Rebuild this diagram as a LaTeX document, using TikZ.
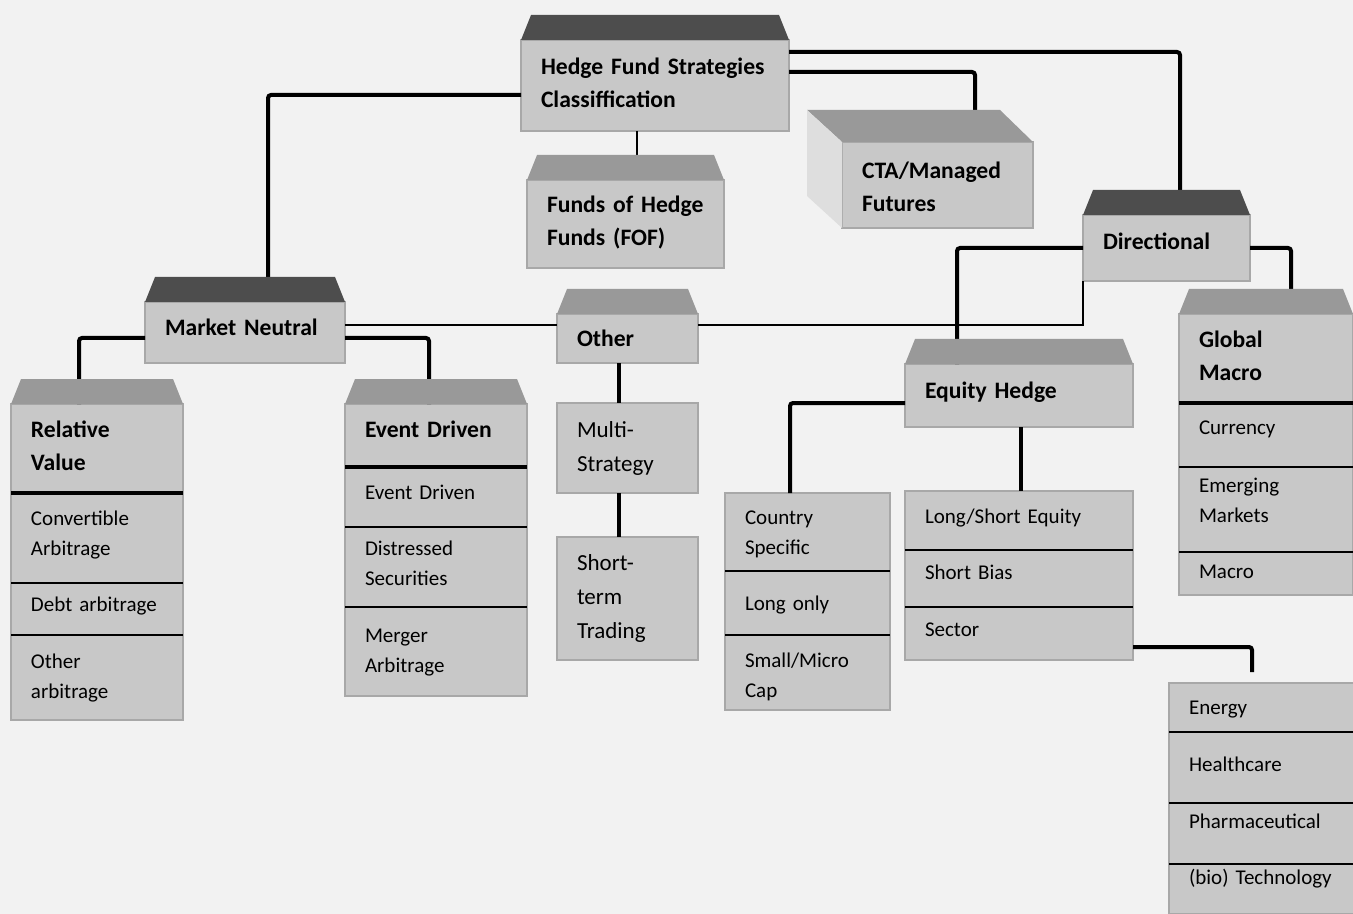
\documentclass[tikz,border=0pt]{standalone}
\usepackage{fontspec}
\setmainfont{Carlito}
\usetikzlibrary{positioning}
\definecolor{paper}{HTML}{F2F2F2}
\definecolor{cellgray}{HTML}{C8C8C8}
\definecolor{celledge}{HTML}{A8A8A8}
\definecolor{capdark}{HTML}{4D4D4D}
\definecolor{capmid}{HTML}{999999}
\definecolor{ctaside}{HTML}{DEDEDE}

\begin{document}
\begin{tikzpicture}[x=0.5pt, y=-0.5pt, node distance=0pt,
  cell/.style={rectangle, fill=cellgray, draw=celledge, line width=0.6pt, outer sep=0pt,
    anchor=north west, inner xsep=10pt, inner ysep=0pt, align=left},
  hdrcell/.style={cell, font=\bfseries\fontsize{11.8}{16.5}\selectfont},
  entrycell/.style={cell, font=\fontsize{10.5}{15}\selectfont},
  bigcell/.style={cell, font=\fontsize{11.5}{17}\selectfont},
  lift/.style={text depth=#1},
  colhfs/.style={minimum width=134pt, text width=114pt},
  colfof/.style={minimum width=98.5pt, text width=78.5pt},
  colcta/.style={minimum width=95.5pt, text width=75.5pt},
  coldir/.style={minimum width=83.5pt, text width=63.5pt},
  colgm/.style={minimum width=87pt, text width=67pt},
  coleh/.style={minimum width=114pt, text width=94pt},
  colcs/.style={minimum width=82.5pt, text width=62.5pt},
  colsec/.style={minimum width=100pt, text width=80pt},
  colmn/.style={minimum width=100pt, text width=80pt},
  colrv/.style={minimum width=86pt, text width=66pt},
  coled/.style={minimum width=91pt, text width=71pt},
  coloth/.style={minimum width=70.5pt, text width=50.5pt},
  wire/.style={line width=2pt, rounded corners=1.5pt},
  thinwire/.style={line width=0.75pt},
  heavysep/.style={line width=2pt},
  lightsep/.style={line width=1pt}]

  % page
  \useasboundingbox (0,0) rectangle (1353,914);
  \fill[paper] (0,0) rectangle (1353,914);

  % top level
  \node[hdrcell, colhfs, minimum height=45.5pt, lift=19.5pt] (hfs) at (521,40) {Hedge Fund Strategies\\Classiffication};
  \node[hdrcell, colfof, minimum height=44pt, lift=20pt] (fof) at (527,180) {Funds~of~Hedge\\Funds (FOF)};
  \node[hdrcell, colcta, minimum height=43pt, lift=14.5pt] (cta) at (842,142) {CTA/Managed\\Futures};
  \node[hdrcell, coldir, minimum height=33pt, lift=7pt] (dir) at (1083,215) {Directional};
  \node[hdrcell, colmn, minimum height=30.5pt, lift=5pt] (mn) at (145,302) {Market~Neutral};
  \node[hdrcell, coloth, minimum height=24.5pt, lift=-1pt] (oth) at (557,314) {Other};

  % market neutral
  \node[hdrcell, colrv, minimum height=44.5pt, lift=19.5pt] (rvh) at (11,404) {Relative\\Value};
  \node[entrycell, colrv, minimum height=45pt, lift=20.2pt, below=of rvh] (rv1) {Convertible\\Arbitrage};
  \node[entrycell, colrv, minimum height=26pt, lift=5.2pt, below=of rv1] (rv2) {Debt arbitrage};
  \node[entrycell, colrv, minimum height=42.5pt, lift=16.2pt, below=of rv2] (rv3) {Other\\arbitrage};

  \node[hdrcell, coled, minimum height=31.5pt, lift=6pt] (edh) at (345,404) {Event Driven};
  \node[entrycell, coled, minimum height=30pt, lift=5pt, below=of edh] (ed1) {Event Driven};
  \node[entrycell, coled, minimum height=40pt, lift=19pt, below=of ed1] (ed2) {Distressed\\Securities};
  \node[entrycell, coled, minimum height=44.5pt, lift=16.2pt, below=of ed2] (ed3) {Merger\\Arbitrage};

  % other
  \node[bigcell, coloth, minimum height=45pt] (ms) at (557,403) {Multi-\\Strategy};
  \node[bigcell, coloth, minimum height=61.5pt] (st) at (557,537) {Short-\\term\\Trading};

  % directional
  \node[hdrcell, coleh, minimum height=31.5pt, lift=5.4pt] (eh) at (905,364) {Equity Hedge};
  \node[entrycell, coleh, minimum height=29.5pt, lift=4.5pt] (ls1) at (905,491) {Long/Short Equity};
  \node[entrycell, coleh, minimum height=28.5pt, lift=6pt, below=of ls1] (ls2) {Short Bias};
  \node[entrycell, coleh, minimum height=26.5pt, lift=4pt, below=of ls2] (ls3) {Sector};

  \node[entrycell, colcs, minimum height=39pt, lift=14.2pt] (cs1) at (725,493) {Country\\Specific};
  \node[entrycell, colcs, minimum height=32pt, lift=-0.8pt, below=of cs1] (cs2) {Long only};
  \node[entrycell, colcs, minimum height=37.5pt, lift=12.2pt, below=of cs2] (cs3) {Small/Micro\\Cap};

  \node[entrycell, colsec, minimum height=24.5pt, lift=-0.8pt] (sec1) at (1169,683) {Energy};
  \node[entrycell, colsec, minimum height=35.5pt, lift=3pt, below=of sec1] (sec2) {Healthcare};
  \node[entrycell, colsec, minimum height=30.5pt, lift=12pt, below=of sec2] (sec3) {Pharmaceutical};
  \node[entrycell, colsec, minimum height=25pt, lift=12.4pt, below=of sec3] (sec4) {(bio) Technology};

  \node[hdrcell, colgm, minimum height=44.5pt, lift=19.5pt] (gmh) at (1179,314) {Global\\Macro};
  \node[entrycell, colgm, minimum height=32pt, lift=7.2pt, below=of gmh] (gm1) {Currency};
  \node[entrycell, colgm, minimum height=42.5pt, lift=24pt, below=of gm1] (gm2) {Emerging\\Markets};
  \node[entrycell, colgm, minimum height=21.5pt, lift=2pt, below=of gm2] (gm3) {Macro};

  % separators
  \foreach \n in {rvh,edh,gmh}
    \draw[heavysep] (\n.south west) -- (\n.south east);
  \foreach \n in {rv1,rv2,ed1,ed2,cs1,cs2,ls1,ls2,sec1,sec2,sec3,gm1,gm2}
    \draw[lightsep] (\n.south west) -- (\n.south east);

  % connectors
  \draw[wire] ([shift={(0,9.5)}]hfs.west) -| ([shift={(23,0)}]mn.north);
  \draw[thinwire] ([shift={(-18,0)}]hfs.south) -- ([shift={(-18,0)}]hfs.south |- fof.north);
  \draw[wire] ([shift={(0,-13.5)}]hfs.east) -| ([shift={(37.5,-32)}]cta.north);
  \draw[wire] ([shift={(0,-33.5)}]hfs.east) -| ([shift={(13.5,0)}]dir.north);
  \draw[wire] (dir.east) -| ([shift={(25,0)}]gmh.north);
  \draw[wire] (dir.west) -| ([shift={(-62,0)}]eh.north);
  \draw[thinwire] ([shift={(0,-13.5)}]oth.east) -| (dir.south west);
  \draw[thinwire] ([shift={(0,-7.5)}]mn.east) -- ([shift={(0,-7.5)}]mn.east -| oth.west);
  \draw[wire] ([shift={(0,5.5)}]mn.west) -| ([shift={(-18,0)}]rvh.north);
  \draw[wire] ([shift={(0,5.5)}]mn.east) -| ([shift={(-7,0)}]edh.north);
  \draw[wire] ([shift={(-8.5,0)}]oth.south) -- ([shift={(-8.5,0)}]oth.south |- ms.north);
  \draw[wire] ([shift={(-8.5,0)}]ms.south) -- ([shift={(-8.5,0)}]ms.south |- st.north);
  \draw[wire] ([shift={(0,7.5)}]eh.west) -| ([shift={(-17.5,0)}]cs1.north);
  \draw[wire] ([shift={(2,0)}]eh.south) -- ([shift={(2,0)}]eh.south |- ls1.north);
  \draw[wire] ([shift={(0,13.5)}]ls3.east) -| ([shift={(-17,-11)}]sec1.north);

  % roofs
  \foreach \n in {hfs,mn,dir}
    \fill[capdark] (\n.north west) -- ([shift={(10,-25)}]\n.north west)
      -- ([shift={(-10,-25)}]\n.north east) -- (\n.north east) -- cycle;
  \foreach \n in {fof,oth,eh,rvh,edh,gmh}
    \fill[capmid] (\n.north west) -- ([shift={(10,-25)}]\n.north west)
      -- ([shift={(-10,-25)}]\n.north east) -- (\n.north east) -- cycle;
  \fill[capmid] (cta.north west) -- ([shift={(-35,-32)}]cta.north west)
    -- ([shift={(-33,-32)}]cta.north east) -- (cta.north east) -- cycle;
  \fill[ctaside] (cta.north west) -- ([shift={(-35,-32)}]cta.north west)
    -- ([shift={(-35,-32)}]cta.south west) -- (cta.south west) -- cycle;
\end{tikzpicture}
\end{document}
